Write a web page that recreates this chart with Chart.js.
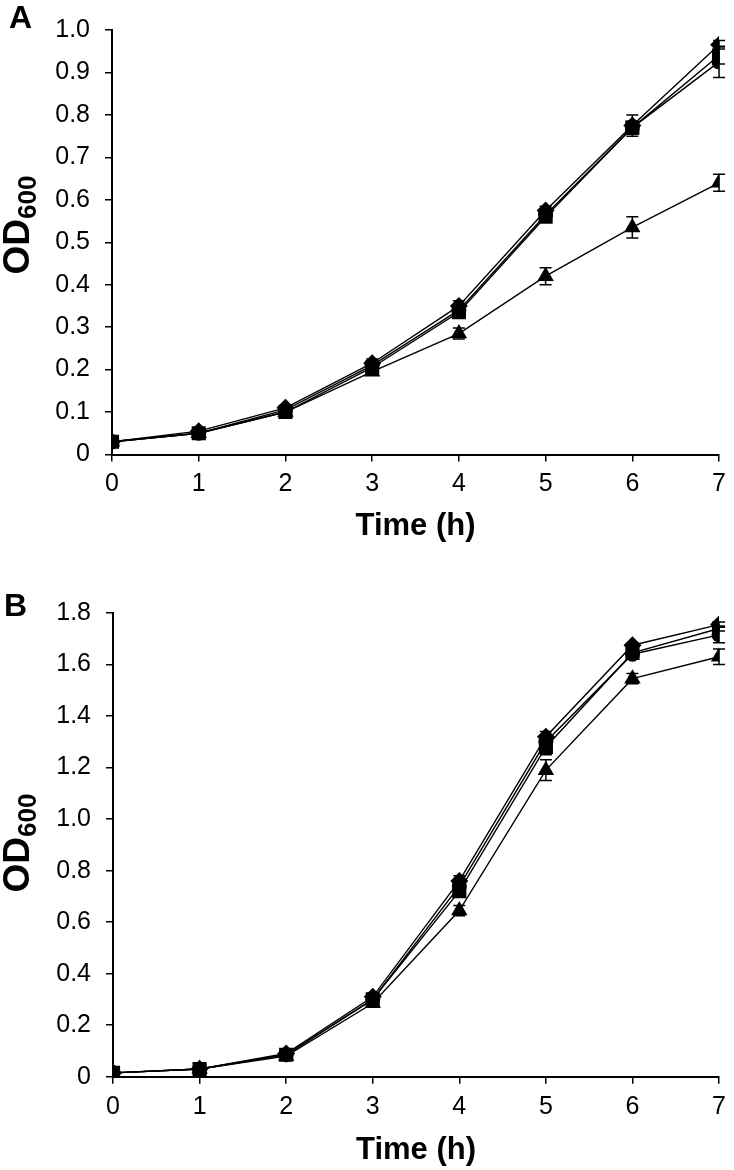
<!DOCTYPE html>
<html>
<head>
<meta charset="utf-8">
<script src="https://cdn.jsdelivr.net/npm/chart.js@4/dist/chart.umd.min.js"></script>
<style>
  html, body { margin: 0; padding: 0; background: #fff; }
  body { width: 734px; height: 1170px; position: relative; overflow: hidden; font-family: "Liberation Sans", Arial, sans-serif; }
  .wrap { position: absolute; left: 0; }
  .lbl { position: absolute; font-weight: bold; color: #000; white-space: nowrap; line-height: 1; }
  .ylab { position: absolute; font-weight: bold; color: #000; white-space: nowrap; line-height: 1; font-size: 37px; transform: translate(-50%, -50%) rotate(-90deg); }
  .ylab sub { font-size: 26px; vertical-align: -7px; }
</style>
</head>
<body>
<div class="wrap" style="top:0;width:734px;height:580px"><canvas id="ca" width="734" height="580"></canvas></div>
<div class="wrap" style="top:580px;width:734px;height:590px"><canvas id="cb" width="734" height="590"></canvas></div>
<div class="lbl" style="left:9px;top:1px;font-size:32px">A</div>
<div class="lbl" style="left:4px;top:589px;font-size:32px">B</div>
<div class="ylab" style="left:19px;top:225px">OD<sub>600</sub></div>
<div class="ylab" style="left:19px;top:843px">OD<sub>600</sub></div>
<script>
// ---- data ----
const timeH = [0, 1, 2, 3, 4, 5, 6, 7];
const xTickLabels = ["0", "1", "2", "3", "4", "5", "6", "7"];

// Panel A
const diamondA  = [0.030, 0.055, 0.110, 0.215, 0.350, 0.575, 0.775, 0.965];
const squareA   = [0.030, 0.050, 0.100, 0.205, 0.335, 0.560, 0.770, 0.940];
const circleA   = [0.030, 0.050, 0.105, 0.210, 0.340, 0.565, 0.770, 0.925];
const triangleA = [0.030, 0.050, 0.100, 0.195, 0.285, 0.420, 0.535, 0.640];
const diamondErrA  = [0, 0, 0.005, 0.010, 0.012, 0.010, 0.025, 0.010];
const squareErrA   = [0, 0, 0.005, 0.005, 0.010, 0.010, 0.010, 0.020];
const circleErrA   = [0, 0, 0.005, 0.005, 0.010, 0.010, 0.015, 0.037];
const triangleErrA = [0, 0, 0.005, 0.008, 0.013, 0.020, 0.025, 0.020];
const yTicksA = [0, 0.1, 0.2, 0.3, 0.4, 0.5, 0.6, 0.7, 0.8, 0.9, 1.0];
const yTickLabelsA = ["0", "0.1", "0.2", "0.3", "0.4", "0.5", "0.6", "0.7", "0.8", "0.9", "1.0"];

// Panel B
const diamondB  = [0.015, 0.030, 0.090, 0.310, 0.760, 1.320, 1.675, 1.755];
const squareB   = [0.015, 0.030, 0.085, 0.300, 0.720, 1.280, 1.645, 1.740];
const circleB   = [0.015, 0.030, 0.085, 0.300, 0.740, 1.300, 1.640, 1.715];
const triangleB = [0.015, 0.030, 0.080, 0.285, 0.645, 1.190, 1.545, 1.630];
const diamondErrB  = [0, 0, 0.010, 0.010, 0.020, 0.020, 0.010, 0.010];
const squareErrB   = [0, 0, 0.010, 0.010, 0.020, 0.030, 0.020, 0.010];
const circleErrB   = [0, 0, 0.010, 0.010, 0.020, 0.020, 0.020, 0.030];
const triangleErrB = [0, 0, 0.010, 0.010, 0.020, 0.040, 0.020, 0.030];
const yTicksB = [0, 0.2, 0.4, 0.6, 0.8, 1.0, 1.2, 1.4, 1.6, 1.8];
const yTickLabelsB = ["0", "0.2", "0.4", "0.6", "0.8", "1.0", "1.2", "1.4", "1.6", "1.8"];

const FONT = "'Liberation Sans', Arial, sans-serif";

const errorBars = {
  id: 'errorBars',
  beforeDatasetsDraw(chart) {
    const ctx = chart.ctx;
    const xs = chart.scales.x, ys = chart.scales.y;
    ctx.save();
    ctx.strokeStyle = '#000';
    ctx.lineWidth = 1.5;
    chart.data.datasets.forEach(ds => {
      const errs = ds.errors || [];
      ds.data.forEach((p, i) => {
        const e = errs[i];
        if (!e) return;
        const px = xs.getPixelForValue(p.x);
        const yt = ys.getPixelForValue(p.y + e);
        const yb = ys.getPixelForValue(p.y - e);
        ctx.beginPath();
        ctx.moveTo(px, yt); ctx.lineTo(px, yb);
        ctx.moveTo(px - 6, yt); ctx.lineTo(px + 6, yt);
        ctx.moveTo(px - 6, yb); ctx.lineTo(px + 6, yb);
        ctx.stroke();
      });
    });
    ctx.restore();
  }
};

function mkDs(vals, errs, style, radius) {
  return {
    data: timeH.map((t, i) => ({ x: t, y: vals[i] })),
    errors: errs,
    showLine: true,
    borderColor: '#000',
    borderWidth: 1.4,
    backgroundColor: '#000',
    pointBackgroundColor: '#000',
    pointBorderColor: '#000',
    pointBorderWidth: 0,
    pointStyle: style,
    pointRadius: radius,
    pointHoverRadius: radius,
    tension: 0
  };
}

function makeChart(id, series, yMax, yTicks, yLabels, pad, yWidth, xHeight, titlePadBottom) {
  return new Chart(document.getElementById(id), {
    type: 'scatter',
    data: { datasets: series },
    plugins: [errorBars],
    options: {
      responsive: false,
      animation: false,
      events: [],
      layout: { padding: pad },
      plugins: { legend: { display: false }, tooltip: { enabled: false } },
      scales: {
        x: {
          type: 'linear', min: 0, max: 7,
          afterBuildTicks: s => { s.ticks = timeH.map(v => ({ value: v })); },
          afterFit: s => { s.height = xHeight; },
          grid: { display: true, drawOnChartArea: false, drawTicks: true, tickLength: 7, color: '#000', lineWidth: 1.5 },
          border: { display: true, color: '#000', width: 2 },
          ticks: {
            color: '#000', padding: 8, maxRotation: 0, autoSkip: false,
            font: { family: FONT, size: 25 },
            callback: (v, i) => xTickLabels[i]
          },
          title: {
            display: true, text: 'Time (h)', color: '#000',
            font: { family: FONT, size: 31, weight: 'bold' },
            padding: { top: 0, bottom: titlePadBottom }
          }
        },
        y: {
          type: 'linear', min: 0, max: yMax,
          afterBuildTicks: s => { s.ticks = yTicks.map(v => ({ value: v })); },
          afterFit: s => { s.width = yWidth; },
          grid: { display: true, drawOnChartArea: false, drawTicks: true, tickLength: 7, color: '#000', lineWidth: 1.5 },
          border: { display: true, color: '#000', width: 2 },
          ticks: {
            color: '#000', padding: 15, autoSkip: false,
            font: { family: FONT, size: 25 },
            callback: (v, i) => yLabels[i]
          }
        }
      }
    }
  });
}

makeChart('ca', [
  mkDs(triangleA, triangleErrA, 'triangle', 9.5),
  mkDs(circleA, circleErrA, 'circle', 7.5),
  mkDs(squareA, squareErrA, 'rect', 10),
  mkDs(diamondA, diamondErrA, 'rectRot', 9)
], 1.0, yTicksA, yTickLabelsA, { top: 12, right: 9, left: 0, bottom: 0 }, 112, 125.5, 35);

makeChart('cb', [
  mkDs(triangleB, triangleErrB, 'triangle', 9.5),
  mkDs(circleB, circleErrB, 'circle', 7.5),
  mkDs(squareB, squareErrB, 'rect', 10),
  mkDs(diamondB, diamondErrB, 'rectRot', 9)
], 1.8, yTicksB, yTickLabelsB, { top: 33, right: 12, left: 0, bottom: 0 }, 113, 93.3, 1);
</script>
</body>
</html>
